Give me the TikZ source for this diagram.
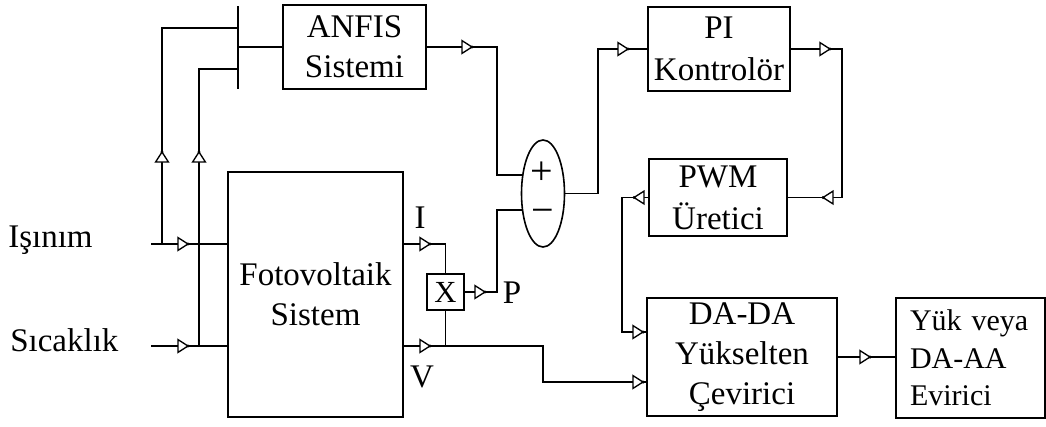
\documentclass[tikz,border=0pt]{standalone}
\usepackage{fontspec}
\setmainfont{Liberation Serif}
\usetikzlibrary{shapes.geometric}
\tikzset{
  ln/.style={line width=1.4pt},
  blk/.style={draw, line width=1.4pt, inner sep=0pt, align=center, font=\fontsize{24.75}{30}\selectfont},
  lbl/.style={inner sep=0pt, font=\fontsize{24.75}{30}\selectfont},
  sgn/.style={inner sep=0pt, font=\fontsize{30}{30}\selectfont},
  tri/.pic={\draw[line width=1pt, fill=white] (0,0) -- (-7.5pt,4.8pt) -- (-7.5pt,-4.8pt) -- cycle;
            \fill (0,0) circle (1.3pt);}
}
\begin{document}
\begin{tikzpicture}[x=0.75pt,y=-0.75pt]
\useasboundingbox (0,0) rectangle (1046,426);
% blocks
\node[blk, minimum width=107.25pt, minimum height=63pt] (anfis) at (354.5,47) {ANFIS\\Sistemi};
\node[blk, minimum width=131.25pt, minimum height=183.75pt] (foto) at (315.5,294.5) {Fotovoltaik\\Sistem};
\node[blk, minimum width=106.5pt, minimum height=63pt, font=\fontsize{24.75}{32}\selectfont] (pi) at (719,49) {PI\\Kontrolör};
\node[blk, minimum width=103.5pt, minimum height=57.75pt, font=\fontsize{24.75}{31.5}\selectfont] (pwm) at (718,197.5) {PWM\\Üretici};
\node[blk, minimum width=142.5pt, minimum height=88.5pt] (dada) at (742,357) {DA-DA\\Yükselten\\Çevirici};
\node[draw, line width=1.4pt, minimum height=90pt, text width=90.75pt, inner xsep=10.5pt, inner ysep=0pt, align=left, font=\fontsize{22.5}{28}\selectfont] (yuk) at (970.5,358) {Yük veya\\DA-AA\\Evirici};
\node[draw, line width=1.4pt, minimum width=27.75pt, minimum height=27pt, inner sep=0pt, font=\fontsize{23}{23}\selectfont] (xb) at (445.5,292) {X};
\node[draw, ellipse, line width=1.2pt, minimum width=32.25pt, minimum height=80.25pt, inner sep=0pt] (sum) at (543,193.5) {};
\node[sgn] (plus) at (542,173) {+};
\node[sgn, anchor=base] (minus) at (543,223) {−};
% labels
\node[lbl, anchor=base west] (isin) at (8,247) {Işınım};
\node[lbl, anchor=base west] (sic) at (10,351) {Sıcaklık};
\node[lbl, anchor=base] (lI) at (420,228) {I};
\node[lbl, anchor=base] (lV) at (422,387) {V};
\node[lbl, anchor=base] (lP) at (512,303) {P};
% coordinates
\coordinate (busT) at (238,6);
\coordinate (busB) at (238,89);
\coordinate (b1) at (238,28);
\coordinate (b2) at (238,69);
\coordinate (inA) at (151,244);
\coordinate (inB) at (151,346);
\coordinate (jA) at (162,244);
\coordinate (jB) at (199,346);
\coordinate (sp) at (522.8,175);
\coordinate (sm) at (522.8,210);
\coordinate (kx) at (497,0);
\coordinate (kv) at (543,0);
\coordinate (kp) at (622,0);
\coordinate (ks) at (598,0);
\coordinate (kr) at (842,0);
\coordinate (dA) at (647,332);
\coordinate (dB) at (647,382);
% connectors
\draw[ln] (busT) -- (busB);
\draw[ln] (inA) -- (foto.west |- inA);
\draw[ln] (inB) -- (foto.west |- inB);
\draw[ln] (jA) |- (b1);
\draw[ln] (jB) |- (b2);
\draw[ln] (busT |- anfis.west) -- (anfis.west);
\draw[ln] (anfis.east) -| (kx |- sp) -- (sp);
\draw[ln] (xb.east) -| (kx |- sm) -- (sm);
\draw[ln] (foto.east |- inA) -| (xb.north);
\draw[ln] (xb.south) -- (xb.south |- inB);
\draw[ln] (foto.east |- inB) -- (kv |- inB) |- (dB);
\draw[ln] (pwm.west) -| (kp |- dA) -- (dA);
\draw[ln] (sum.east) -| (ks |- pi.west) -- (pi.west);
\draw[ln] (pi.east) -| (kr |- pwm.east) -- (pwm.east);
\draw[ln] (dada.east) -- (dada.east -| yuk.west);
% arrow markers
\pic at (188,244) {tri};
\pic at (188,346) {tri};
\pic[rotate=90] at (162,152) {tri};
\pic[rotate=90] at (199,152) {tri};
\pic at (430,244) {tri};
\pic at (430,346) {tri};
\pic at (485,292) {tri};
\pic at (472,47) {tri};
\pic at (628,49) {tri};
\pic at (830,49) {tri};
\pic[rotate=180] at (823,197.5) {tri};
\pic[rotate=180] at (634,197.5) {tri};
\pic at (643,332) {tri};
\pic at (643,382) {tri};
\pic at (870,357) {tri};
\end{tikzpicture}
\end{document}
